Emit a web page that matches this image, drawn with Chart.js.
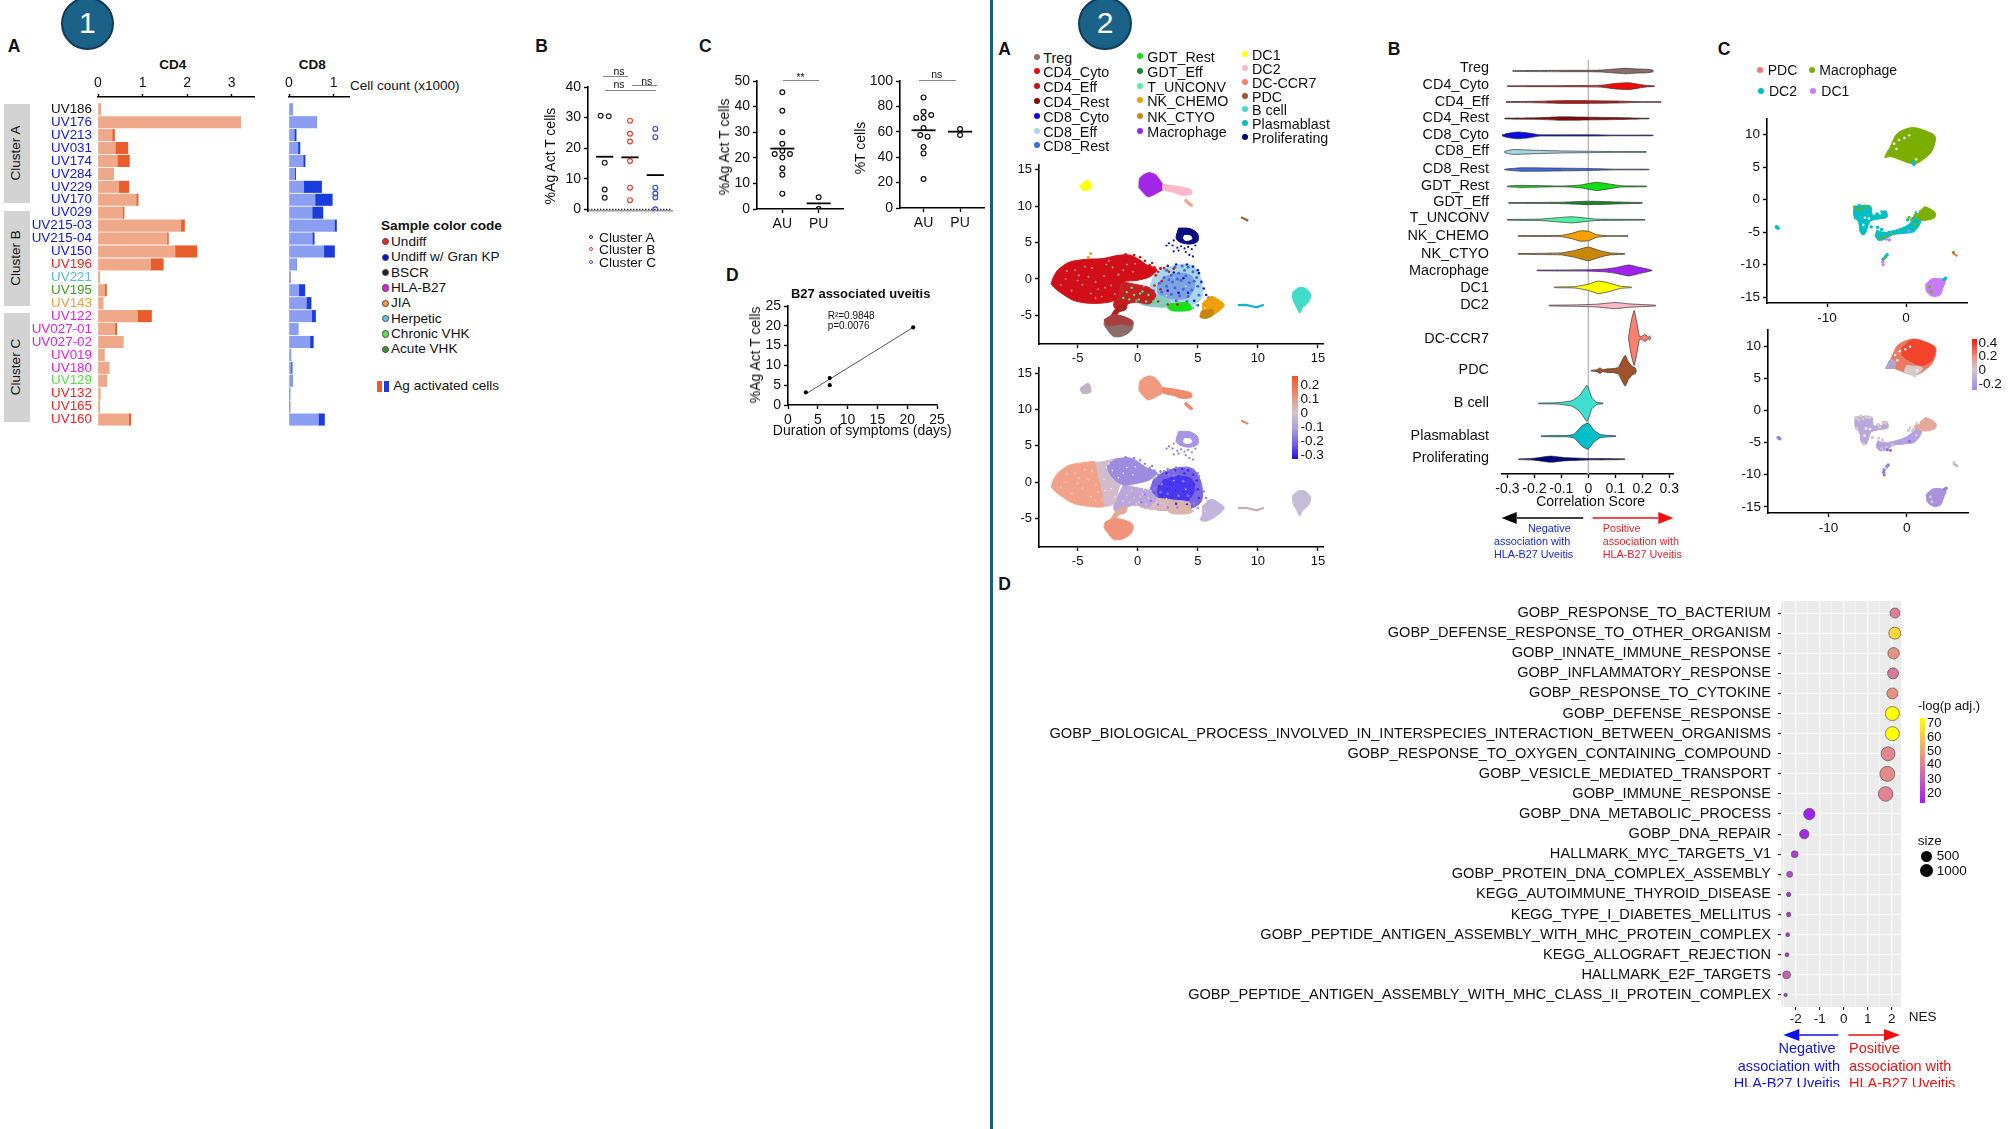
<!DOCTYPE html>
<html lang="en">
<head>
<meta charset="UTF-8">
<title>Uveitis T cell panels</title>
<script src="https://cdn.jsdelivr.net/npm/chart.js"></script>
<style>
  html, body { margin: 0; background: #fff; }
  #page { position: relative; width: 2008px; height: 1129px; overflow: hidden; font-family: "Liberation Sans", Arial, sans-serif; color: #111; }
  #page canvas { position: absolute; }
  .t { position: absolute; white-space: nowrap; line-height: 1; }
  .box { position: absolute; }
</style>
</head>
<body>
<div id="page"></div>
<script>
  // ---------- panel 1A ----------
  const samples = ['UV186','UV176','UV213','UV031','UV174','UV284','UV229','UV170','UV029','UV215-03','UV215-04','UV150','UV196','UV221','UV195','UV143','UV122','UV027-01','UV027-02','UV019','UV180','UV129','UV132','UV165','UV160'];
  const sampleColors = ['#111','#1414e0','#1414e0','#1414e0','#1414e0','#1414e0','#1414e0','#1414e0','#1414e0','#1414e0','#1414e0','#1414e0','#ee2222','#55bbdd','#449922','#f0a040','#e020e8','#e020e8','#e020e8','#e020e8','#e020e8','#55dd44','#ee2222','#ee2222','#ee2222'];
  const cd4Rest = [0.05,3.2,0.32,0.39,0.435,0.35,0.465,0.86,0.555,1.86,1.55,1.73,1.18,0.03,0.15,0.11,0.89,0.38,0.56,0.135,0.245,0.19,0.045,0.03,0.69];
  const cd4Act = [0,0,0.05,0.28,0.27,0,0.225,0.04,0.03,0.08,0.03,0.49,0.285,0,0.04,0,0.31,0.04,0,0,0,0,0,0,0.045];
  const cd8Rest = [0.08,0.615,0.12,0.2,0.32,0.13,0.33,0.585,0.52,1.02,0.525,0.78,0.165,0.025,0.22,0.39,0.51,0.2,0.47,0.04,0.05,0.075,0.02,0.02,0.66];
  const cd8Act = [0,0,0.04,0.045,0.04,0.02,0.4,0.385,0.24,0.045,0.04,0.24,0,0,0.135,0.105,0.085,0,0.075,0,0.02,0,0,0,0.135];

  // ---------- panels 1B, 1C, 1D ----------
  const clusterA = [[0.84,30.6],[1.16,30.4],[1,15.2],[1,6.5],[1,3.8]];
  const clusterB = [[2,29],[2,24.7],[2,22.2],[2,15.8],[2,7.1],[2,3]];
  const clusterC = [[3,26.3],[3,23.6],[3,7.1],[3,5.2],[3,3.9],[3,0]];
  const clusterMeans = [17.2,17,11.2];
  const actAU = [[1,45.6],[1,38.4],[1,30],[1,25.5],[1,22.8],[0.79,21.5],[1.21,21.5],[1,20.1],[1,15.9],[1,13.4],[1,6]];
  const actPU = [[2,4.6],[2,0]];
  const actMeans = [23.6,2.2];
  const tcellAU = [[1,87.1],[1,75.8],[0.8,71.1],[1,70.9],[1.21,73.2],[1,63],[0.91,57.5],[1.11,56.2],[1,48],[1,43],[1,22.8]];
  const tcellPU = [[2,62.2],[2,57.5]];
  const tcellMeans = [61.2,60.1];
  const durationPoints = [[3,3.2],[7,6.8],[7,5],[21,19.6]];
  const durationFit = [[3,2.8],[21,19.6]];

  // ---------- panel 2A umap outlines ----------
  const cd4Blob = [[-7.2,-0.7],[-7,0.3],[-6.6,1.3],[-5.7,2.3],[-4.3,2.7],[-2.9,2.8],[-1.8,3.2],[-0.7,3.3],[0,2.8],[0.7,2],[1.6,1.3],[1,0.3],[-0.1,-0.2],[-1.2,-0.4],[-1.6,-1.7],[-1.9,-2.9],[-2.9,-3.3],[-4.3,-3.3],[-5.4,-2.9],[-6.4,-1.9],[-7,-1.1],[-7.2,-0.7]];
  const midBlob = [[-1.2,-0.4],[0,-0.8],[1,-1.2],[1.5,-2.2],[1,-3.4],[0,-3.2],[-0.8,-3.4],[-1.6,-4.4],[-2,-3.6],[-1.8,-2.5],[-1.2,-0.4]];
  const bridgeBlob = [[-0.2,-2.4],[1,-2],[2.6,-2.8],[2.7,-3.6],[1.4,-3.8],[0.2,-3.4],[-0.2,-2.4]];
  const cd8Blob = [[1.3,0.3],[2.1,1.3],[3.5,2],[4.6,1.8],[5.2,0.3],[5.4,-1.7],[5.2,-2.9],[4.3,-3.7],[2.7,-3.9],[1.3,-3.7],[0.7,-2.7],[1,-1.2],[1.3,0.3]];
  const cd8Core = [[2.2,0.3],[3.5,0.8],[4.5,0.4],[4.7,-1.2],[4.1,-2.6],[2.8,-2.7],[1.8,-2.2],[1.7,-0.8],[2.2,0.3]];
  const gdtBlob = [[2.7,-3.4],[4.2,-3.3],[4.5,-4.2],[3,-4.4],[2.5,-4],[2.7,-3.4]];
  const nkBlob = [[5.4,-3.3],[6.1,-2.4],[6.7,-2.8],[7.2,-3.6],[6.6,-4.6],[5.7,-5.4],[5.2,-5.2],[5.4,-4.4],[5.4,-3.3]];
  const nkCore = [[5.3,-4.4],[6.2,-4.2],[6.3,-4.9],[5.7,-5.4],[5.2,-5.2],[5.3,-4.4]];
  const tregBlob = [[-2.7,-5.5],[-2,-5],[-1,-5.3],[-0.4,-5.9],[-0.5,-7],[-1.2,-7.8],[-2,-7.9],[-2.5,-7],[-2.8,-6.2],[-2.7,-5.5]];
  const tregCap = [[-2.8,-5.6],[-2,-4.9],[-1.1,-5.2],[-0.4,-5.8],[-0.5,-6.3],[-1.5,-6.2],[-2.5,-6.4],[-2.8,-5.6]];
  const tregNeck = [[-2.2,-5],[-1.9,-4.2],[-1.4,-3.6],[-0.9,-3.4],[-1,-4.2],[-1.5,-4.5],[-1.8,-5],[-2.2,-5]];
  const macroBlob = [[0.1,12.6],[0.2,13.9],[0.9,14.6],[1.5,14.3],[2,13.2],[2.2,12.5],[1.6,11.8],[0.9,11.3],[0.6,11.6],[0.1,12.6]];
  const dc2Blob = [[2.1,13],[3,12.8],[4.4,12.3],[4.5,11.7],[3.7,11.5],[3,11.9],[2.1,12.3],[2.1,13]];
  const dc2Tail = [[4,11],[4.6,10.1],[4.4,10],[3.9,10.7],[4,11]];
  const dc1Blob = [[-4.8,12.9],[-4.1,13.6],[-3.9,12.4],[-4.6,12.2],[-4.8,12.9]];
  const pdcLine = [[8.6,8.5],[9.2,8]];
  const prolifBlob = [[3.4,7],[4.4,6.9],[5,6.2],[5,5.2],[4.4,4.8],[3.6,5],[3.2,5.6],[3.4,7]];
  const prolifHole = [[3.9,6],[4.4,5.9],[4.5,5.5],[4,5.3],[3.8,5.6],[3.9,6]];
  const plasmaLine = [[8.35,-3.6],[9,-3.55],[9.9,-3.9],[10.5,-3.55]];
  const bcellBlob = [[12.9,-1.8],[13.4,-1.2],[14,-1.3],[14.4,-2.2],[14.2,-3.2],[13.7,-4],[13.5,-4.7],[13.2,-3.8],[12.9,-2.8],[12.9,-1.8]];

  // scattered cells on top of the outlines
  const prolifDots = [[2.6,4.9],[2.9,4.6],[3,5.3],[3.3,4.3],[3.6,4.5],[3.9,4.2],[4.2,4.4],[4.5,4.1],[4.3,3.3],[4.6,3.1],[3,3.8],[3.4,3.9],[2.4,4.6],[4,3.7],[4.8,4.6]];
  const cd8Dots = [[2.4,1.2],[3.1,1.6],[3.7,1.8],[4.2,1.6],[4.6,1],[4.9,0.2],[2.8,0.5],[3.4,0.8],[4,0.4],[2.2,0.2],[2.9,-0.4],[3.6,-0.2],[4.3,-0.5],[5,-1],[2.4,-1],[3.1,-1.2],[3.8,-1.4],[4.5,-1.5],[2,-1.8],[2.8,-2.1],[3.5,-2.3],[4.2,-2.4],[5.1,-2.2],[1.6,-2.6],[2.3,-2.9],[3.2,-3],[4.1,-3.1],[1.3,-1.6],[1.8,-0.6],[3.9,1.2],[3.3,0],[2.6,-0.1],[4.7,-0.3]];
  const cytoDots = [[1.2,0.9],[1.9,1.4],[2.5,1.8],[4.6,1.7],[5.1,0.8],[5.3,-0.4],[5.5,-1.3],[5.7,-2.2],[5.9,-2.6],[6,-3],[1,-2.1],[0.6,-2.9],[0.9,-3.5],[1.6,-3.6],[2.2,-3.2],[4.7,-3],[5,-3.6],[0.2,-1.4],[-0.3,-1.9],[0.4,-2.4],[3,0.9],[3.8,0.1],[2.5,-1.6],[4.2,-1.9],[3.4,-1.9],[1.5,1.2],[3.2,2],[4.1,2],[5,1.2]];
  const redDots = [[1.7,1],[2.2,1.5],[2.6,1],[3,1.4],[1.5,0.5],[2,-0.3],[1.4,-0.9],[1.9,-1.4],[1.1,-2.6],[1.7,-3.1],[2.5,-3.5],[3.3,-3.5],[0.2,3],[0.6,2.5],[1,1.9],[1.4,1.6],[1.9,1.5],[-1,3.4],[-0.3,3.3],[1.2,2.2],[0.6,-1.7],[0.3,-2.8]];
  const mintDots = [[-0.9,-1.8],[-0.3,-2.2],[0.1,-2.8],[0.7,-3.1],[1.3,-3.1],[1.9,-2.9],[-0.5,-1.2],[0.4,-1.7],[2.3,-3.4],[-1.2,-2.6],[-0.1,-3],[0.9,-2.2],[1.3,-3.3],[2,-3.7],[4.6,-4],[4.9,-3.6],[-0.7,-2.8],[0.2,-2],[1.6,-2.8]];
  const whiteDots = [[-6,0],[-5.2,1.2],[-4.6,-0.8],[-3.8,1.5],[-3.3,-1.4],[-2.8,0.4],[-2.1,1.6],[-4.1,0.3],[-5.5,-1.6],[-3,-2.4],[-1.6,0.6],[-0.9,2],[-0.4,1],[-5.9,1.1],[-2.2,-0.9],[-6.4,-0.8],[-5,-0.2],[-4.4,1.7],[-3.5,-2.6],[-2.4,2.5],[-1.2,1.2],[-0.2,2.1],[-2.7,-1.2],[-1.9,-2.1],[-3.9,-2],[0.8,-0.9],[0.5,-1],[1.1,-1.2],[0.6,-0.8],[-3.5,-0.4],[-4.9,0.5],[-2.6,2],[3,0.2],[4,-1],[2.4,-2.3],[5.6,-4],[4.9,-4.3]];
  const otherDots = [[-3.9,3.5],[-4.1,3]];

  // bottom umap tone areas
  const toneLeft = [[-7.2,-0.7],[-7,0.3],[-6.6,1.3],[-5.7,2.3],[-4.3,2.7],[-3.5,2.7],[-3.2,0.5],[-2.9,-1.5],[-2.7,-3.3],[-4.3,-3.3],[-5.4,-2.9],[-6.4,-1.9],[-7,-1.1],[-7.2,-0.7]];
  const toneMid = [[-3.5,2.7],[-2.9,2.8],[-1.8,3.2],[-0.7,3.3],[0,2.8],[-0.5,1],[-1.4,-0.2],[-1.7,-1.7],[-1.9,-2.9],[-2.7,-3.3],[-2.9,-1.5],[-3.2,0.5],[-3.5,2.7]];
  const toneTop = [[-1.8,3.2],[-0.7,3.3],[0,2.8],[0.7,2],[1.6,1.3],[1,0.3],[-0.1,-0.2],[-1.2,-0.4],[-2.2,0.8],[-2.5,2.2],[-1.8,3.2]];
  const toneBand = [[0.7,-2.7],[1.3,-3.7],[2.7,-3.9],[4.3,-3.7],[4.3,-2.8],[3,-2.5],[1.8,-2.3],[0.7,-2.7]];
  const scoreBarTicks2A = ['0.2','0.1','0','-0.1','-0.2','-0.3'];

  // ---------- panel 2B violins: [score, half width] ----------
  const violinNames = ['Treg','CD4_Cyto','CD4_Eff','CD4_Rest','CD8_Cyto','CD8_Eff','CD8_Rest','GDT_Rest','GDT_Eff','T_UNCONV','NK_CHEMO','NK_CTYO','Macrophage','DC1','DC2','DC-CCR7','PDC','B cell','Plasmablast','Proliferating'];
  const violinColors = ['#8b6c66','#f00a0a','#c81010','#8a0505','#0a0ae0','#a8d5e8','#3c6ae0','#10e010','#128a28','#50f0a0','#f5a000','#c8860a','#a020f0','#ffff00','#ffb6c8','#fa8072','#a0522d','#40e0d0','#00bfc8','#000080'];
  const violinRows = [120,164,210,258,307,355,406,455,503,552,599,651,699,748,801,895,990,1085,1180,1247];
  const labelRows = [110,162,210,256,305,351,404,454,499,547,598,650,701,750,800,897,988,1083,1179,1244];
  const violinProfiles = [
    [[-0.28,1],[-0.1,2],[0,2],[0.05,3],[0.1,6],[0.14,8],[0.18,6],[0.22,5],[0.24,2]],
    [[-0.3,1],[0,2],[0.05,3],[0.1,8],[0.15,10],[0.19,5],[0.22,2],[0.245,1]],
    [[-0.305,1],[-0.2,2],[-0.1,4],[0,4],[0.1,3],[0.2,1],[0.27,1]],
    [[-0.31,1],[-0.2,2],[-0.1,5],[0,4],[0.1,3],[0.2,1],[0.225,1]],
    [[-0.32,1],[-0.3,6],[-0.26,10],[-0.22,7],[-0.18,2],[0,2],[0.1,1],[0.24,1]],
    [[-0.31,2],[-0.28,7],[-0.2,5],[-0.1,3],[0,2],[0.1,1],[0.215,1]],
    [[-0.31,1],[-0.25,5],[-0.1,4],[0,3],[0.1,1],[0.225,1]],
    [[-0.3,1],[-0.25,3],[-0.1,1],[-0.03,4],[0.03,12],[0.07,8],[0.12,2],[0.215,1]],
    [[-0.295,1],[-0.1,2],[0,5],[0.1,3],[0.2,1]],
    [[-0.3,1],[-0.18,2],[-0.1,7],[-0.06,9],[-0.02,6],[0.03,2],[0.21,1]],
    [[-0.26,1],[-0.1,2],[-0.06,8],[-0.03,15],[0,14],[0.03,4],[0.07,1],[0.147,1]],
    [[-0.26,1],[-0.1,3],[-0.05,10],[0,20],[0.04,10],[0.08,3],[0.135,1]],
    [[-0.19,1],[0,2],[0.06,4],[0.1,8],[0.15,16],[0.19,9],[0.235,1]],
    [[-0.125,1],[-0.05,2],[0,9],[0.035,18],[0.07,14],[0.12,3],[0.16,1]],
    [[-0.145,1],[-0.05,2],[0.03,4],[0.1,9],[0.15,5],[0.25,1]],
    [[0.149,1],[0.158,45],[0.17,80],[0.18,45],[0.19,4],[0.199,4],[0.205,9],[0.214,9],[0.221,2],[0.227,6],[0.232,1]],
    [[0.011,1],[0.032,3],[0.043,8],[0.054,3],[0.069,5],[0.094,6],[0.112,10],[0.125,30],[0.137,45],[0.149,25],[0.162,13],[0.174,8],[0.178,1]],
    [[-0.184,1],[-0.116,2],[-0.06,8],[-0.03,25],[-0.005,52],[0.014,15],[0.032,3],[0.054,1]],
    [[-0.174,1],[-0.128,2],[-0.079,2],[-0.052,6],[-0.023,30],[0,38],[0.02,18],[0.044,5],[0.075,2],[0.102,1]],
    [[-0.258,1],[-0.2,3],[-0.14,9],[-0.09,5],[0,2],[0.05,2],[0.135,1]]
  ];

  // ---------- panel 2C umap outlines ----------
  const myeMacro = [[-2.7,6.5],[-2.4,7.3],[-2,8.1],[-1.1,10.2],[0.8,11.1],[2.7,10.5],[3.7,9.7],[3.3,7.5],[2.2,6.2],[1,5.5],[-0.7,6.1],[-1.8,6.6],[-2.7,6.5]];
  const myeMacroHot = [[-0.6,9.8],[0.8,11],[2.7,10.4],[3.6,9.6],[3.2,7.8],[2,7],[0.5,7.6],[-0.6,8.6],[-0.6,9.8]];
  const myeMacroCool = [[-2.7,6.5],[-2.1,7.9],[-1.5,7.6],[-1.6,6.6],[-2.7,6.5]];
  const myeMacroGrey = [[0,7],[2,6.6],[1,5.5],[-0.3,6],[0,7]];
  const myeLeft = [[-6.6,-1],[-4.5,-1],[-4.2,-2.4],[-2.6,-1.7],[-2.4,-2.7],[-3.5,-3],[-4.5,-3.3],[-4.8,-4],[-5.2,-5.3],[-5.8,-5],[-6,-3.5],[-6.6,-2.5],[-6.6,-1]];
  const myeBand = [[-3.7,-4.7],[-3,-5],[-1.7,-4.8],[-0.2,-4.2],[0.7,-3.4],[1.1,-2.4],[2,-2.4],[1.7,-3.9],[0.9,-5],[-0.3,-5.2],[-1.7,-5.4],[-2.5,-6],[-3.4,-6.3],[-3.9,-5.6],[-3.7,-4.7]];
  const myeEnd = [[1.9,-1.6],[2.4,-1.1],[3.7,-2],[3.6,-2.8],[2.4,-3.2],[1.6,-3],[1,-2.4],[1.9,-1.6]];
  const myeDc1 = [[2.5,-13],[3.3,-12.2],[4.5,-12.2],[5,-12.5],[4.7,-13.5],[4.3,-14.7],[3.4,-14.9],[2.6,-14.2],[2.5,-13]];
  const myePdc = [[5.9,-8.2],[6.5,-8.7]];
  const myeSmallTeal = [[-2.4,-8.5],[-2.6,-8.8],[-2.9,-9.2],[-16.3,-4.3],[-16.4,-4.2],[-16.2,-4.4],[5,-12.1],[4.8,-12.3]];
  const myeSmallPurple = [[-2.9,-10],[-2.95,-9.6],[-2.1,-6.2],[-2.5,-6.1],[0.3,-4.8]];
  const myeTealDots = [[-6.4,-1.2],[-5.9,-0.9],[-5.2,-1],[-4.7,-1.1],[-3.7,-2.2],[-3.1,-1.9],[-2.7,-2],[-3.5,-2.6],[-4.4,-4.2],[-3.6,-4.3],[-3.1,-4.6],[-5.5,-5.2],[-6.4,-2.8],[0.2,-3.1],[0.9,-2.9],[1.3,-2],[0.9,5.8],[1,5.4]];
  const myeGreenDots = [[-6.5,-1.1],[-6.1,-1.5],[-5.6,-1.3],[-5,-1.1],[-3.2,-5.9],[-2.6,-5.7],[-1.8,-5.3],[0.7,-3.1],[0.4,-2.7],[1.2,-3.8],[3,-13.4],[3.2,-14.2],[-2.7,-9],[6,-8.1]];
  const myeWhiteDots = [[-1.5,8.6],[-0.9,9.2],[-0.2,9.5],[-1.2,7.8],[0.4,9.9],[1.3,6.2],[-5.2,-2.8],[-4.7,-2.9],[-5.4,-3.9],[-3.3,-2.1],[0.8,-2.2],[1.5,-1.9],[1.1,-1.6],[-2.5,-4.8]];

  // ---------- panel 2D ----------
  const pathways = ['GOBP_RESPONSE_TO_BACTERIUM','GOBP_DEFENSE_RESPONSE_TO_OTHER_ORGANISM','GOBP_INNATE_IMMUNE_RESPONSE','GOBP_INFLAMMATORY_RESPONSE','GOBP_RESPONSE_TO_CYTOKINE','GOBP_DEFENSE_RESPONSE','GOBP_BIOLOGICAL_PROCESS_INVOLVED_IN_INTERSPECIES_INTERACTION_BETWEEN_ORGANISMS','GOBP_RESPONSE_TO_OXYGEN_CONTAINING_COMPOUND','GOBP_VESICLE_MEDIATED_TRANSPORT','GOBP_IMMUNE_RESPONSE','GOBP_DNA_METABOLIC_PROCESS','GOBP_DNA_REPAIR','HALLMARK_MYC_TARGETS_V1','GOBP_PROTEIN_DNA_COMPLEX_ASSEMBLY','KEGG_AUTOIMMUNE_THYROID_DISEASE','KEGG_TYPE_I_DIABETES_MELLITUS','GOBP_PEPTIDE_ANTIGEN_ASSEMBLY_WITH_MHC_PROTEIN_COMPLEX','KEGG_ALLOGRAFT_REJECTION','HALLMARK_E2F_TARGETS','GOBP_PEPTIDE_ANTIGEN_ASSEMBLY_WITH_MHC_CLASS_II_PROTEIN_COMPLEX'];
  const nes = [2.14,2.13,2.08,2.06,2.03,2.03,2.03,1.85,1.82,1.75,-1.43,-1.64,-2.04,-2.25,-2.29,-2.29,-2.33,-2.36,-2.375,-2.42];
  const setSize = [440,780,660,590,590,1260,1260,1260,1560,1430,660,365,135,90,35,35,25,25,205,15];
  const logP = [40,62,45,38,45,72,72,42,43,41,15,17,22,25,20,20,20,20,32,22];

  // ---------- helpers ----------
  const page = document.getElementById('page');
  const FONT = '"Liberation Sans", Arial, sans-serif';

  function txt(s, x, y, o = {}) {
    const d = document.createElement('div');
    d.className = 't';
    d.textContent = s;
    d.style.left = x + 'px';
    d.style.top = y + 'px';
    d.style.fontSize = (o.size || 14) + 'px';
    if (o.bold) d.style.fontWeight = 'bold';
    if (o.color) d.style.color = o.color;
    const tx = o.align === 'right' ? '-100%' : o.align === 'center' ? '-50%' : '0';
    d.style.transform = o.rot ? `translate(-50%,-50%) rotate(${o.rot}deg)` : `translate(${tx},-50%)`;
    page.appendChild(d);
    return d;
  }
  function rect(x, y, w, h, bg, extra) {
    const d = document.createElement('div');
    d.className = 'box';
    Object.assign(d.style, {left: x + 'px', top: y + 'px', width: w + 'px', height: h + 'px', background: bg}, extra || {});
    page.appendChild(d);
    return d;
  }
  function dot(x, y, r, bg, border) {
    rect(x - r, y - r, 2 * r, 2 * r, bg, {borderRadius: '50%', boxSizing: 'border-box', border: border || 'none'});
  }
  function arrow(tail, tip, y, color, lw, headLen, headHalf) {
    const dir = tip > tail ? 1 : -1;
    const svg = document.createElementNS('http://www.w3.org/2000/svg', 'svg');
    svg.setAttribute('width', 2008);
    svg.setAttribute('height', 1129);
    svg.style.cssText = 'position:absolute;left:0;top:0;pointer-events:none';
    svg.innerHTML = `<line x1="${tail}" y1="${y}" x2="${tip - dir * headLen}" y2="${y}" stroke="${color}" stroke-width="${lw}"/>` +
      `<polygon fill="${color}" points="${tip},${y} ${tip - dir * headLen},${y - headHalf} ${tip - dir * headLen},${y + headHalf}"/>`;
    page.appendChild(svg);
  }

  // box is the exact plot area on the page, margins leave room for the axes
  function place(box, m, config) {
    const c = document.createElement('canvas');
    const w = box.r - box.l + m.l + m.r, h = box.b - box.t + m.t + m.b;
    c.width = Math.round(w);
    c.height = Math.round(h);
    c.style.left = (box.l - m.l) + 'px';
    c.style.top = (box.t - m.t) + 'px';
    c.style.width = c.width + 'px';
    c.style.height = c.height + 'px';
    page.appendChild(c);
    const xTop = config.options.scales.x.position === 'top';
    config.options.scales.x.afterFit = s => { s.height = xTop ? m.t : m.b; };
    config.options.scales.y.afterFit = s => { s.width = m.l; };
    config.options.responsive = false;
    config.options.animation = false;
    config.options.events = [];
    config.options.layout = {padding: {top: xTop ? 0 : m.t, bottom: xTop ? m.b : 0, right: m.r, left: 0}};
    config.options.plugins = Object.assign({legend: {display: false}, tooltip: {enabled: false}}, config.options.plugins || {});
    // later datasets sit on top, but bars must keep their stack order
    if (config.type !== 'bar') config.data.datasets.forEach((d, i, all) => { d.order = all.length - i; });
    return new Chart(c.getContext('2d'), config);
  }

  function axis(min, max, ticks, o = {}) {
    const font = {family: FONT, size: o.size || 14};
    return {
      type: 'linear', min, max,
      offset: false,
      position: o.position,
      reverse: !!o.reverse,
      stacked: o.stacked,
      afterBuildTicks: s => { s.ticks = ticks.map(value => ({value})); },
      ticks: Object.assign({font, color: '#111', padding: o.padding === undefined ? 3 : o.padding, maxRotation: 0, minRotation: 0, autoSkip: false,
        callback: v => String(v)}, o.ticks || {}),
      border: o.border || {color: '#000', width: 1.6},
      grid: o.grid || {drawOnChartArea: false, tickColor: '#000', tickWidth: 1.4, tickLength: o.tickLength || 4}
    };
  }

  const pts = a => a.map(([x, y]) => ({x, y}));
  const hollow = (a, color) => ({data: pts(a), showLine: false, pointRadius: 2.4, pointBorderWidth: 1.2, pointBorderColor: color, pointBackgroundColor: 'transparent'});
  const line = (a, color, width, dash) => ({data: pts(a), showLine: true, borderColor: color, borderWidth: width, borderDash: dash || [], pointRadius: 0, fill: false, clip: false});
  const blob = (a, color, tension) => ({data: pts(a), showLine: true, fill: 'shape', backgroundColor: color, borderColor: color, borderWidth: 1, tension: tension === undefined ? 0.3 : tension, pointRadius: 0});
  const cells = (a, color, r) => ({data: pts(a), showLine: false, pointRadius: r || 1.3, pointBorderWidth: 0, pointBackgroundColor: color});
  const meanBars = (means, half) => means.map((m, i) => line([[i + 1 - half, m], [i + 1 + half, m]], '#000', 1.8));

  // ---------- layout pieces ----------
  rect(990, 0, 3, 1129, '#1a5f85');
  [[87.3, 23.3, '1'], [1105, 23.3, '2']].forEach(([x, y, s]) => {
    dot(x, y, 26.7, '#1a6288', '2px solid #123c58');
    txt(s, x, y, {size: 30, color: '#fff', align: 'center'});
  });
  [['A',14,47],['B',541.7,46.7],['C',705.3,46.7],['D',732.3,276],['A',1004.7,50],['B',1394,49.6],['C',1724,49.6],['D',1004.7,584.5]].forEach(([s, x, y]) => {
    txt(s, x, y, {size: 17.5, bold: true, align: 'center'});
  });

  // ---------- 1A ----------
  [[103.7, 99, 'Cluster A'], [210.7, 95, 'Cluster B'], [313.3, 108.3, 'Cluster C']].forEach(([t, h, s]) => {
    rect(4, t, 26, h, '#d3d3d3');
    txt(s, 15.5, t + h / 2, {size: 13.5, rot: -90});
  });
  txt('CD4', 172.7, 65, {bold: true, size: 13.5, align: 'center'});
  txt('CD8', 312.3, 65, {bold: true, size: 13.5, align: 'center'});
  txt('Cell count (x1000)', 350, 86, {size: 13.5});

  const rowAxis = (labelled) => axis(-0.95, 24.5, samples.map((s, i) => i), {
    reverse: true, stacked: true, size: 13.4, padding: 6,
    border: {display: false},
    grid: {display: false, drawTicks: false},
    ticks: {display: labelled, callback: v => samples[v], color: ctx => sampleColors[ctx.index]}
  });
  function countChart(box, rest, act, lightColor, darkColor, max, ticks, labelled) {
    place(box, {t: 30, r: 12, b: 24, l: labelled ? 90 : 10}, {
      type: 'bar',
      data: {datasets: [
        {data: rest.map((x, y) => ({x, y})), backgroundColor: lightColor, barThickness: 11.4, indexAxis: 'y'},
        {data: act.map((x, y) => ({x, y})), backgroundColor: darkColor, barThickness: 11.4, indexAxis: 'y'}
      ]},
      options: {indexAxis: 'y', scales: {
        x: axis(0, max, ticks, {position: 'top', stacked: true, size: 14, tickLength: 3, padding: 2}),
        y: rowAxis(labelled)
      }}
    });
  }
  countChart({l: 98.3, r: 254, t: 97, b: 426}, cd4Rest, cd4Act, '#efa888', '#e95c2c', 3.5, [0,1,2,3], true);
  countChart({l: 288.7, r: 348.3, t: 97, b: 426}, cd8Rest, cd8Act, '#8a9ef2', '#1a3cdc', 1.345, [0,1], false);

  txt('Sample color code', 381, 226, {bold: true, size: 13.6});
  [['Undiff','#e8282a'],['Undiff w/ Gran KP','#0a10d8'],['BSCR','#222'],['HLA-B27','#e020e0'],['JIA','#f0a030'],['Herpetic','#60c8e8'],['Chronic VHK','#60e050'],['Acute VHK','#3a9a28']].forEach(([s, c], i) => {
    const y = [241.7,257.3,272.7,288,303.3,318.7,334,349.3][i];
    dot(385.3, y, 3.8, c, '1px solid #444');
    txt(s, 391, y, {size: 13.6});
  });
  rect(376.7, 381, 5.3, 11, '#e95c2c');
  rect(384, 381, 5.3, 11, '#1a3cdc');
  txt('Ag activated cells', 393.3, 385.7, {size: 13.6});

  // ---------- 1B ----------
  place({l: 588.3, r: 672, t: 86.7, b: 211}, {t: 24, r: 10, b: 24, l: 32}, {
    type: 'scatter',
    data: {datasets: [
      line([[0.34, 0], [3.66, 0]], '#333', 1.2, [1.5, 1.5]),
      hollow(clusterA, '#222'), hollow(clusterB, '#ec3b2c'), hollow(clusterC, '#2c4ae8'),
      ...meanBars(clusterMeans, 0.34)
    ]},
    options: {scales: {
      x: axis(0.34, 3.66, [], {border: {color: '#999', width: 1.4}}),
      y: axis(-0.54, 40, [0,10,20,30,40])
    }}
  });
  txt('%Ag Act T cells', 550, 156, {size: 14, rot: -90});
  [[603.3, 75.7, 25], [605.3, 90, 50.3], [632.3, 84.7, 25]].forEach(([x, y, w]) => rect(x, y, w, 1, '#888'));
  txt('ns', 619, 71, {size: 10.5, align: 'center'});
  txt('ns', 619, 84.3, {size: 10.5, align: 'center'});
  txt('ns', 646.7, 80.7, {size: 10.5, align: 'center'});
  [['Cluster A', '#222', 238.3], ['Cluster B', '#ec3b2c', 250.3], ['Cluster C', '#2c4ae8', 263]].forEach(([s, c, y]) => {
    dot(591, y - 1, 2.1, 'transparent', `1px solid ${c}`);
    txt(s, 599, y - 0.3, {size: 13.7});
  });

  // ---------- 1C ----------
  function auPu(box, au, pu, means, yMax, step, xMin, xMax) {
    const ticks = [];
    for (let v = 0; v <= yMax; v += step) ticks.push(v);
    place(box, {t: 24, r: 12, b: 30, l: 36}, {
      type: 'scatter',
      data: {datasets: [hollow(au, '#111'), hollow(pu, '#111'), ...meanBars(means, 0.33)]},
      options: {scales: {
        x: axis(xMin, xMax, [1, 2], {ticks: {callback: v => v === 1 ? 'AU' : 'PU'}}),
        y: axis(0, yMax, ticks)
      }}
    });
  }
  auPu({l: 757.3, r: 843.3, t: 81.3, b: 209}, actAU, actPU, actMeans, 50, 10, 0.303, 2.67);
  auPu({l: 900.3, r: 984.7, t: 81.3, b: 208.3}, tcellAU, tcellPU, tcellMeans, 100, 20, 0.355, 2.655);
  txt('%Ag Act T cells', 724, 146.7, {size: 14, rot: -90});
  txt('%T cells', 860, 148.3, {size: 14, rot: -90});
  rect(782.7, 79.7, 36.7, 1, '#888');
  rect(919, 79.7, 36.7, 1, '#888');
  txt('**', 800.5, 76.5, {size: 10.5, align: 'center'});
  txt('ns', 936.7, 74.3, {size: 10.5, align: 'center'});

  // ---------- 1D ----------
  place({l: 787.7, r: 936.3, t: 306.3, b: 405.3}, {t: 24, r: 14, b: 24, l: 30}, {
    type: 'scatter',
    data: {datasets: [
      line(durationFit, '#444', 0.9),
      {data: pts(durationPoints), showLine: false, pointRadius: 2.1, pointBackgroundColor: '#000', pointBorderWidth: 0}
    ]},
    options: {scales: {
      x: axis(0, 25, [0,5,10,15,20,25]),
      y: axis(0, 25, [0,5,10,15,20,25])
    }}
  });
  txt('B27 associated uveitis', 860.7, 292.7, {bold: true, size: 13, align: 'center'});
  txt('R²=0.9848', 827.7, 316, {size: 10});
  txt('p=0.0076', 827.7, 326.3, {size: 10});
  txt('Duration of symptoms (days)', 862.3, 430.3, {size: 14, align: 'center'});
  txt('%Ag Act T cells', 755, 355, {size: 14, rot: -90});

  // ---------- 2A ----------
  const umapTicksX = [-5,0,5,10,15], umapTicksY = [-5,0,5,10,15];
  [['Treg','#8b6c66',57.6,0],['CD4_Cyto','#f00a0a',72.2,0],['CD4_Eff','#c81010',87,0],['CD4_Rest','#8a0505',101.6,0],['CD8_Cyto','#0a0ae0',116.5,0],['CD8_Eff','#a8d5e8',131.5,0],['CD8_Rest','#3c6ae0',146.4,0],
   ['GDT_Rest','#10e010',56.5,1],['GDT_Eff','#128a28',71.8,1],['T_UNCONV','#50f0a0',86.7,1],['NK_CHEMO','#f5a000',101.3,1],['NK_CTYO','#c8860a',116.5,1],['Macrophage','#a020f0',131.5,1],
   ['DC1','#ffff00',55,2],['DC2','#ffb6c8',68.9,2],['DC-CCR7','#fa8072',83,2],['PDC','#a0522d',96.5,2],['B cell','#40e0d0',110,2],['Plasmablast','#00bfc8',124.2,2],['Proliferating','#000080',138.4,2]
  ].forEach(([s, c, y, col]) => {
    dot([1037.3, 1140.3, 1245.3][col], y - 1, 3, c);
    txt(s, [1043.3, 1147.3, 1252][col], y, {size: 14.3});
  });

  const umapOpts = (xr, yr, size, tx, ty) => ({scales: {x: axis(xr[0], xr[1], tx, {size}), y: axis(yr[0], yr[1], ty, {size})}});
  place({l: 1039.3, r: 1323.3, t: 165.3, b: 344.5}, {t: 24, r: 14, b: 24, l: 30}, {
    type: 'scatter',
    data: {datasets: [
      blob(cd8Blob, '#a8d5e8'), blob(cd8Core, '#7fa2e0'), cells(cd8Dots, '#3c6ae0', 1.5), cells(cytoDots, '#1414e0', 1.3),
      blob(bridgeBlob, '#8cc8c4'), blob(midBlob, '#c42020'), blob(cd4Blob, '#d20f18'), blob(tregNeck, '#b02020'),
      blob(gdtBlob, '#18e018'), blob(nkBlob, '#eba008'), blob(nkCore, '#c8860a'),
      blob(tregBlob, '#8b6c66'), blob(tregCap, '#a84040'), blob(macroBlob, '#a326e6'), blob(dc2Blob, '#ffb6c8'), blob(dc2Tail, '#f5a090'), blob(dc1Blob, '#ffff00'),
      line(pdcLine, '#a0522d', 2), blob(prolifBlob, '#0c0c80'), blob(prolifHole, '#ffffff'), cells(prolifDots, '#1414a0', 1.1),
      line(plasmaLine, '#10b5c9', 2.2), blob(bcellBlob, '#40dcc8'),
      cells(redDots, '#c81818', 1.3), cells(mintDots, '#40e890', 1.2), cells(whiteDots, '#f4e8e8', 0.8), cells(otherDots, '#f0a020', 1.5)
    ]},
    options: umapOpts([-8.21, 15.42], [-8.93, 15.66], 13, umapTicksX, umapTicksY)
  });
  place({l: 1039.3, r: 1323.3, t: 368.2, b: 547.5}, {t: 24, r: 14, b: 24, l: 30}, {
    type: 'scatter',
    data: {datasets: [
      blob(cd8Blob, '#7a66e2'), blob(cd8Core, '#4a38ee'), blob(toneBand, '#d8b4b0'), cells(cd8Dots, '#3f30f0', 1.3), cells(cytoDots, '#8f80e8', 1.2),
      blob(bridgeBlob, '#d8b8c0'), blob(midBlob, '#b9a6dc'), blob(toneLeft, '#f3a28a'), blob(toneMid, '#d2bccb'), blob(toneTop, '#9d8ce0'), blob(tregNeck, '#e4a898'),
      blob(gdtBlob, '#dcb4ac'), blob(nkBlob, '#c2b4dc'),
      blob(tregBlob, '#f0937a'), blob(macroBlob, '#f09a80'), blob(dc2Blob, '#ef8a6c'), blob(dc2Tail, '#f08a6c'), blob(dc1Blob, '#c0b4c4'),
      line(pdcLine, '#f07a5c', 2), blob(prolifBlob, '#a896e4'), blob(prolifHole, '#ffffff'), cells(prolifDots, '#8a78e8', 1.1),
      line(plasmaLine, '#cfaab4', 2.2), blob(bcellBlob, '#c4bcd8'),
      cells(redDots, '#9080e0', 1.2), cells(mintDots, '#e0c0c0', 1.1), cells(whiteDots, '#fbeeee', 0.8)
    ]},
    options: umapOpts([-8.21, 15.42], [-8.95, 15.7], 13, umapTicksX, umapTicksY)
  });
  rect(1291.7, 375.5, 6.7, 83.5, 'linear-gradient(#f4502a 0%, #f08a70 22%, #d2c4c8 44%, #b0a0e0 62%, #7060e8 82%, #1a10f0 100%)');
  scoreBarTicks2A.forEach((s, i) => txt(s, 1300.5, [384.5, 399, 413.3, 426.7, 440.9, 454.7][i], {size: 13.5}));

  // ---------- 2B ----------
  const violinData = violinProfiles.map((p, i) => {
    const row = violinRows[i];
    const top = p.map(([s, w]) => [s, row - w]);
    const bottom = p.slice().reverse().map(([s, w]) => [s, row + w]);
    const ds = blob([...top, ...bottom, top[0]], violinColors[i], 0.15);
    ds.borderColor = '#333';
    ds.borderWidth = 0.7;
    return ds;
  });
  place({l: 1501.7, r: 1672.7, t: 60.3, b: 474.2}, {t: 24, r: 14, b: 24, l: 130}, {
    type: 'scatter',
    data: {datasets: [line([[0, 88], [0, 1290]], '#bbb', 1.5), ...violinData]},
    options: {scales: {
      x: axis(-0.32, 0.314, [-0.3,-0.2,-0.1,0,0.1,0.2,0.3]),
      y: axis(88, 1290, labelRows, {reverse: true, size: 14.4, padding: 13,
        border: {display: false}, grid: {display: false, drawTicks: false},
        ticks: {callback: v => violinNames[labelRows.indexOf(v)]}})
    }}
  });
  txt('Correlation Score', 1590.7, 500.7, {size: 14, align: 'center'});
  arrow(1583.3, 1501.7, 518, '#000', 1.6, 15, 6);
  arrow(1592.7, 1673.3, 518, '#f01010', 1.6, 15, 6);
  txt('Negative', 1570.7, 528.3, {size: 10.8, color: '#1a28d8', align: 'right'});
  txt('association with', 1494, 541.4, {size: 10.8, color: '#1a28d8'});
  txt('HLA-B27 Uveitis', 1494, 554.4, {size: 10.8, color: '#1a28d8'});
  txt('Positive', 1602.7, 528.3, {size: 10.8, color: '#e8202a'});
  txt('association with', 1602.7, 541.4, {size: 10.8, color: '#e8202a'});
  txt('HLA-B27 Uveitis', 1602.7, 554.4, {size: 10.8, color: '#e8202a'});

  // ---------- 2C ----------
  [['PDC', '#f8766d', 1760, 1767.7, 70], ['Macrophage', '#7cae00', 1811.7, 1819.3, 70], ['DC2', '#00bfc4', 1761, 1769, 91], ['DC1', '#c77cff', 1813.3, 1821.3, 91]].forEach(([s, c, dx, tx, y]) => {
    dot(dx, y, 3, c);
    txt(s, tx, y - 0.5, {size: 14});
  });
  place({l: 1766.7, r: 1966.7, t: 118.8, b: 302.7}, {t: 24, r: 14, b: 24, l: 34}, {
    type: 'scatter',
    data: {datasets: [
      blob(myeMacro, '#7cae00'), blob(myeLeft, '#00bfc4'), blob(myeBand, '#00bfc4'), blob(myeEnd, '#7cae00'), blob(myeDc1, '#c77cff'),
      line(myePdc, '#f8766d', 2.4), cells(myeSmallTeal, '#00bfc4', 1.8), cells(myeSmallPurple, '#c77cff', 1.6),
      cells(myeTealDots, '#00bfc4', 1.7), cells(myeGreenDots, '#7cae00', 1.5), cells(myeWhiteDots, '#ffffff', 1.2)
    ]},
    options: umapOpts([-17.6, 7.72], [-15.92, 12.42], 13.5, [-10, 0], [-15,-10,-5,0,5,10])
  });
  place({l: 1768, r: 1967.7, t: 330.3, b: 513.5}, {t: 24, r: 14, b: 24, l: 34}, {
    type: 'scatter',
    data: {datasets: [
      blob(myeMacro, '#ea7a62'), blob(myeMacroCool, '#b0a6d0'), blob(myeMacroGrey, '#d8cac8'), blob(myeMacroHot, '#f2442a'),
      blob(myeLeft, '#b8a8dc'), blob(myeBand, '#b2a0e0'), blob(myeEnd, '#e6a898'), blob(myeDc1, '#a892dc'),
      line(myePdc, '#b8b0cc', 2.4), cells(myeSmallTeal, '#9a80e4', 1.8), cells(myeSmallPurple, '#9070e8', 1.6),
      cells(myeTealDots, '#d6c8cc', 1.7), cells(myeGreenDots, '#d4c6c8', 1.5), cells(myeWhiteDots, '#ffffff', 1.2)
    ]},
    options: umapOpts([-17.7, 7.79], [-15.94, 12.5], 13.5, [-10, 0], [-15,-10,-5,0,5,10])
  });
  rect(1971.7, 338.9, 5, 51, 'linear-gradient(#f01a10, #ef9080 35%, #d0c8cc 60%, #a088e8 100%)');
  ['0.4','0.2','0','-0.2'].forEach((s, i) => txt(s, 1978.5, [342.7, 356.4, 370.2, 384][i], {size: 13.5}));

  // ---------- 2D ----------
  const ramp = [[15,[160,32,240]],[40,[224,128,150]],[55,[245,180,100]],[70,[255,255,0]]];
  function rampColor(v) {
    if (v >= 70) return 'rgb(255,255,0)';
    for (let i = 1; i < ramp.length; i++) {
      if (v <= ramp[i][0]) {
        const f = Math.max(0, (v - ramp[i - 1][0]) / (ramp[i][0] - ramp[i - 1][0]));
        const c = ramp[i - 1][1].map((a, k) => Math.round(a + (ramp[i][1][k] - a) * f));
        return `rgb(${c.join(',')})`;
      }
    }
  }
  const sizeToRadius = s => 5.2 * Math.pow(s / 500, 0.32);
  const gridX = [-2.5,-2,-1.5,-1,-0.5,0,0.5,1,1.5,2];
  const panelBg = {id: 'panelBg', beforeDraw(chart) {
    const {ctx, chartArea: a} = chart;
    ctx.save();
    ctx.fillStyle = '#ebebeb';
    ctx.fillRect(a.left, a.top, a.right - a.left, a.bottom - a.top);
    ctx.restore();
  }};
  place({l: 1780.7, r: 1900.7, t: 601, b: 1006.7}, {t: 24, r: 12, b: 26, l: 750}, {
    type: 'bubble',
    plugins: [panelBg],
    data: {datasets: [{
      data: nes.map((x, i) => ({x, y: i, r: sizeToRadius(setSize[i])})),
      backgroundColor: logP.map(rampColor),
      borderColor: '#555', borderWidth: 0.7, clip: false
    }]},
    options: {scales: {
      x: axis(-2.61, 2.39, gridX, {size: 13.5, padding: 1, border: {display: false},
        ticks: {callback: v => Number.isInteger(v) ? String(v) : ''},
        grid: {color: '#fff', lineWidth: c => Number.isInteger(c.tick.value) ? 1.1 : 0.5, tickLength: 3,
          tickColor: c => Number.isInteger(c.tick.value) ? '#222' : 'transparent', tickWidth: 1.2}}),
      y: axis(-0.6, 19.6, pathways.map((p, i) => i), {reverse: true, size: 14.6, padding: 7, border: {display: false},
        ticks: {callback: v => pathways[v]},
        grid: {color: '#fff', lineWidth: 1.1, tickLength: 3, tickColor: '#222', tickWidth: 1.2}})
    }}
  });
  txt('NES', 1908.7, 1017.3, {size: 13.5});
  txt('-log(p adj.)', 1918, 705, {size: 13});
  rect(1920, 718, 5, 85, 'linear-gradient(#ffff00, #f5b464 30%, #e08096 55%, #a020f0 100%)');
  ['70','60','50','40','30','20'].forEach((s, i) => txt(s, 1927, [721.7, 735.7, 750, 763, 777.7, 792][i], {size: 13}));
  txt('size', 1917.7, 840.7, {size: 13.5});
  dot(1926.7, 856, 5.5, '#000');
  dot(1926.7, 870.7, 6.7, '#000');
  txt('500', 1936.7, 856, {size: 13.5});
  txt('1000', 1936.7, 871, {size: 13.5});
  arrow(1838.3, 1783.3, 1035, '#1010e8', 1.6, 16, 6);
  arrow(1848.3, 1900, 1035, '#f01010', 1.6, 16, 6);
  txt('Negative', 1835.7, 1048, {size: 14.5, color: '#1414e0', align: 'right'});
  txt('association with', 1840, 1065.7, {size: 14.5, color: '#1414e0', align: 'right'});
  txt('HLA-B27 Uveitis', 1840, 1082.7, {size: 14.5, color: '#1414e0', align: 'right'});
  txt('Positive', 1849, 1048, {size: 14.5, color: '#f01010'});
  txt('association with', 1849, 1065.7, {size: 14.5, color: '#f01010'});
  txt('HLA-B27 Uveitis', 1849, 1082.7, {size: 14.5, color: '#f01010'});
  rect(1700, 1087, 308, 42, '#fff');
</script>
</body>
</html>
